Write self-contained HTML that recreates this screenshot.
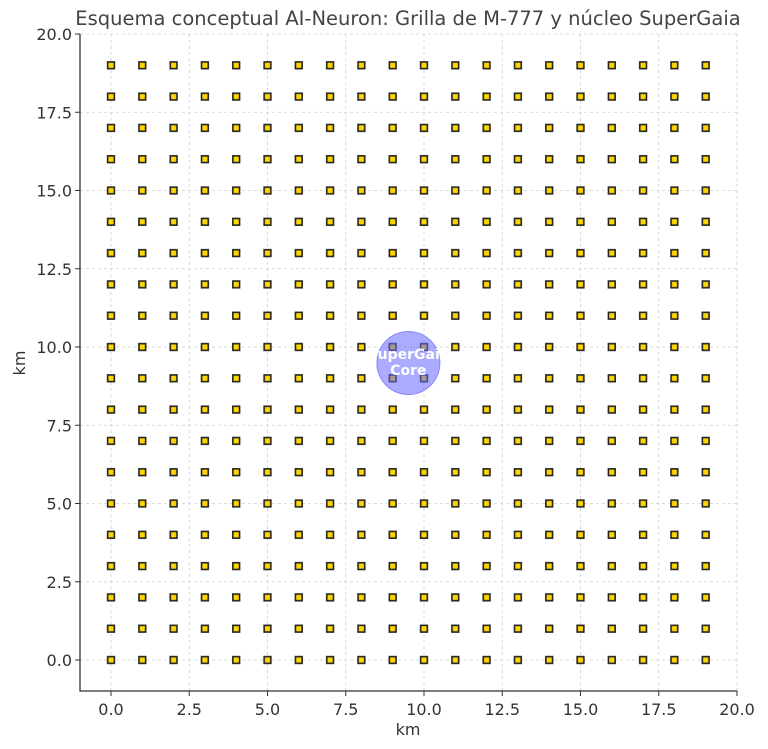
<!DOCTYPE html>
<html><head><meta charset="utf-8"><style>body{margin:0;background:#fff}svg{display:block}</style></head>
<body>
<svg width="768" height="749" viewBox="0 0 768 749" xmlns="http://www.w3.org/2000/svg" font-family="DejaVu Sans, Liberation Sans, sans-serif">
<defs>
<pattern id="m" x="95.35" y="49.65" width="31.3" height="31.3" patternUnits="userSpaceOnUse">
<rect x="12.3" y="12.3" width="6.7" height="6.7" fill="#FFD700" stroke="#222" stroke-width="1.6"/>
</pattern>
</defs>
<g stroke="#d0d0d0" stroke-width="0.8" stroke-dasharray="3,3">
<line x1="111" y1="34" x2="111" y2="691"/><line x1="189.25" y1="34" x2="189.25" y2="691"/><line x1="267.5" y1="34" x2="267.5" y2="691"/><line x1="345.75" y1="34" x2="345.75" y2="691"/><line x1="424" y1="34" x2="424" y2="691"/><line x1="502.25" y1="34" x2="502.25" y2="691"/><line x1="580.5" y1="34" x2="580.5" y2="691"/><line x1="658.75" y1="34" x2="658.75" y2="691"/><line x1="737" y1="34" x2="737" y2="691"/>
<line x1="80" y1="660" x2="737" y2="660"/><line x1="80" y1="581.75" x2="737" y2="581.75"/><line x1="80" y1="503.5" x2="737" y2="503.5"/><line x1="80" y1="425.25" x2="737" y2="425.25"/><line x1="80" y1="347" x2="737" y2="347"/><line x1="80" y1="268.75" x2="737" y2="268.75"/><line x1="80" y1="190.5" x2="737" y2="190.5"/><line x1="80" y1="112.25" x2="737" y2="112.25"/><line x1="80" y1="34" x2="737" y2="34"/>
</g>
<rect x="95.35" y="49.65" width="626" height="626" fill="url(#m)"/>
<circle cx="408.4" cy="363" r="31.5" fill="#6666ff" fill-opacity="0.55" stroke="#8888ff" stroke-width="1"/>
<text x="408.4" y="359" font-size="14" font-weight="bold" fill="#fff" text-anchor="middle">SuperGaia</text>
<text x="408.4" y="375" font-size="14" font-weight="bold" fill="#fff" text-anchor="middle">Core</text>
<g stroke="#333" stroke-width="1.3" fill="none">
<line x1="80" y1="34" x2="80" y2="691.5"/><line x1="79.5" y1="691" x2="737" y2="691"/>
</g>
<g stroke="#333" stroke-width="1">
<line x1="111" y1="691" x2="111" y2="696"/><line x1="189.25" y1="691" x2="189.25" y2="696"/><line x1="267.5" y1="691" x2="267.5" y2="696"/><line x1="345.75" y1="691" x2="345.75" y2="696"/><line x1="424" y1="691" x2="424" y2="696"/><line x1="502.25" y1="691" x2="502.25" y2="696"/><line x1="580.5" y1="691" x2="580.5" y2="696"/><line x1="658.75" y1="691" x2="658.75" y2="696"/><line x1="737" y1="691" x2="737" y2="696"/>
<line x1="75" y1="660" x2="80" y2="660"/><line x1="75" y1="581.75" x2="80" y2="581.75"/><line x1="75" y1="503.5" x2="80" y2="503.5"/><line x1="75" y1="425.25" x2="80" y2="425.25"/><line x1="75" y1="347" x2="80" y2="347"/><line x1="75" y1="268.75" x2="80" y2="268.75"/><line x1="75" y1="190.5" x2="80" y2="190.5"/><line x1="75" y1="112.25" x2="80" y2="112.25"/><line x1="75" y1="34" x2="80" y2="34"/>
</g>
<g font-size="16" fill="#333" text-anchor="middle">
<text x="111" y="715">0.0</text><text x="189.25" y="715">2.5</text><text x="267.5" y="715">5.0</text><text x="345.75" y="715">7.5</text><text x="424" y="715">10.0</text><text x="502.25" y="715">12.5</text><text x="580.5" y="715">15.0</text><text x="658.75" y="715">17.5</text><text x="737" y="715">20.0</text>
</g>
<g font-size="16" fill="#333" text-anchor="end">
<text x="72" y="666">0.0</text><text x="72" y="587.75">2.5</text><text x="72" y="509.5">5.0</text><text x="72" y="431.25">7.5</text><text x="72" y="353">10.0</text><text x="72" y="274.75">12.5</text><text x="72" y="196.5">15.0</text><text x="72" y="118.25">17.5</text><text x="72" y="40">20.0</text>
</g>
<text x="408" y="735" font-size="16" fill="#333" text-anchor="middle">km</text>
<text x="25" y="363" font-size="16" fill="#333" text-anchor="middle" transform="rotate(-90 25 363)">km</text>
<text x="408" y="25" font-size="19.5" fill="#444" text-anchor="middle">Esquema conceptual AI-Neuron: Grilla de M-777 y núcleo SuperGaia</text>
</svg>
</body></html>
